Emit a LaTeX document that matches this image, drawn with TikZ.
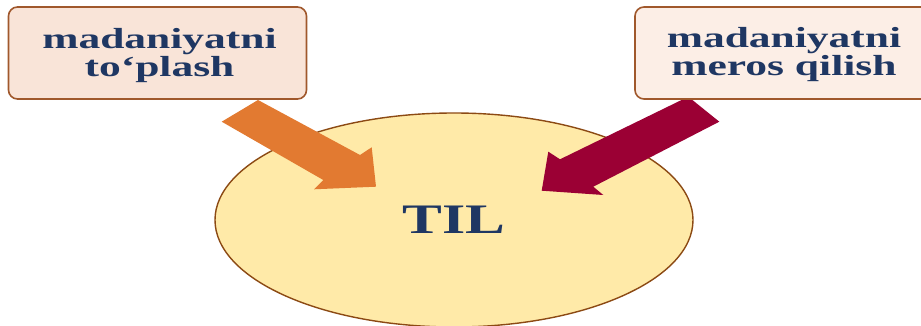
\documentclass[tikz,border=0pt]{standalone}
\usepackage{fontspec}
\setmainfont{Liberation Serif}
\usetikzlibrary{shapes.geometric}

\definecolor{navy}{HTML}{1F3763}
\definecolor{boxedge}{HTML}{A0582C}
\definecolor{boxfillA}{HTML}{F9E4D8}
\definecolor{boxfillB}{HTML}{FCEEE6}
\definecolor{ovalfill}{HTML}{FFEAA8}
\definecolor{ovaledge}{HTML}{8C4A14}
\definecolor{arroworange}{HTML}{E27A31}
\definecolor{arrowmaroon}{HTML}{9B0034}

% wide bold lettering
\newcommand{\widetxt}[2][1.5]{\scalebox{#1}[1]{#2}}

\tikzset{
  labelbox/.style={draw=boxedge, line width=1.6pt, rounded corners=9pt,
    minimum width=298pt, minimum height=92pt, inner sep=0pt},
  boxtext/.style={text=navy, inner sep=0pt, align=center,
    font=\fontsize{29}{28}\selectfont\bfseries},
  blockarrow/.style={draw=none},
}

\begin{document}
\begin{tikzpicture}[x=1pt, y=-1pt]
  \useasboundingbox (0,0) rectangle (921,326);
  \clip (0,0) rectangle (921,326);

  % central oval
  \node[ellipse, draw=ovaledge, line width=1.4pt, fill=ovalfill,
        minimum width=478pt, minimum height=214pt, inner sep=0pt,
        text=navy, font=\fontsize{42}{42}\selectfont\bfseries]
        (til) at (454,220) {\widetxt[1.42]{TIL}};

  % orange block arrow
  \coordinate (oa1) at (221.7,121.7);
  \coordinate (oa2) at (258,100);
  \coordinate (oa3) at (360,155);
  \coordinate (oa4) at (371.7,147.3);
  \coordinate (oa5) at (376,186.7);
  \coordinate (oa6) at (314,189.3);
  \coordinate (oa7) at (323.3,180);
  \fill[arroworange] (oa1) -- (oa2) -- (oa3) -- (oa4) -- (oa5) -- (oa6) -- (oa7) -- cycle;

  % maroon block arrow
  \coordinate (ma1) at (688.3,96.7);
  \coordinate (ma2) at (560,159.3);
  \coordinate (ma3) at (548.3,151.7);
  \coordinate (ma4) at (541.7,190.7);
  \coordinate (ma5) at (603.3,195);
  \coordinate (ma6) at (593.3,186.7);
  \coordinate (ma7) at (719.3,121.7);
  \fill[arrowmaroon] (ma1) -- (ma2) -- (ma3) -- (ma4) -- (ma5) -- (ma6) -- (ma7) -- cycle;

  % label boxes
  \node[labelbox, fill=boxfillA] (leftbox) at (157.5,53) {};
  \node[labelbox, fill=boxfillB] (rightbox) at (784,53) {};

  \node[boxtext] (lefttext) at (159.5,55.4)
    {\widetxt{madaniyatni}\\\widetxt{to‘plash}};
  \node[boxtext] (righttext) at (784,54.2)
    {\widetxt{madaniyatni}\\\widetxt{meros qilish}};
\end{tikzpicture}
\end{document}
